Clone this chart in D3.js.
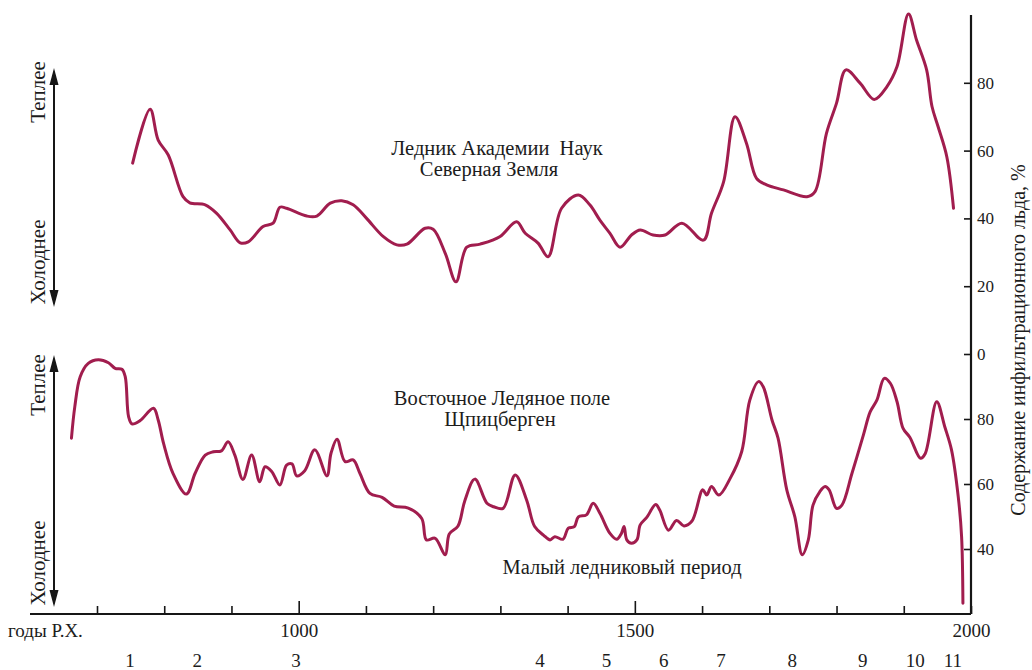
<!DOCTYPE html>
<html>
<head>
<meta charset="utf-8">
<script src="https://cdn.jsdelivr.net/npm/d3@7"></script>
<style>
  html, body { margin: 0; padding: 0; background: #ffffff; }
  svg { display: block; }
  text { font-family: "Liberation Serif", "Times New Roman", serif; fill: #1c1c1c; }
</style>
</head>
<body>
<svg id="chart" width="1032" height="670"></svg>
<script>
// Ледник Академии Наук (Северная Земля): year and infiltration-ice content, %
const topYears = [753, 779, 791, 806, 828, 838, 861, 878, 898, 913, 925, 947, 962, 972, 982,
  1012, 1027, 1047, 1064, 1081, 1101, 1126, 1146, 1161, 1188, 1200, 1218, 1234, 1250, 1270,
  1299, 1324, 1337, 1356, 1371, 1391, 1416, 1433, 1448, 1463, 1478, 1495, 1508, 1527, 1545,
  1570, 1602, 1614, 1632, 1649, 1666, 1681, 1696, 1721, 1756, 1768, 1785, 1800, 1814, 1835,
  1856, 1875, 1890, 1907, 1919, 1934, 1942, 1951, 1964, 1974];
const topValues = [56.3, 72.2, 63.1, 58.7, 46.4, 44.6, 44.0, 41.5, 36.6, 32.8, 33.1, 37.6, 38.6, 43.3, 43.0,
  40.7, 40.7, 44.5, 45.2, 44.0, 40.0, 34.6, 32.2, 32.4, 37.1, 36.8, 29.7, 21.3, 31.5, 32.4,
  34.6, 39.0, 35.6, 32.7, 28.7, 43.0, 46.9, 44.0, 39.5, 35.6, 31.5, 35.1, 36.6, 35.1, 35.1,
  38.6, 33.6, 41.5, 50.8, 70.0, 62.2, 51.8, 49.9, 48.4, 46.4, 47.9, 65.1, 74.0, 83.8, 79.9,
  75.1, 78.9, 84.8, 100.3, 92.6, 83.8, 73.0, 67.1, 58.2, 43.0];

// Восточное Ледяное поле (Шпицберген): year and infiltration-ice content, %
const bottomYears = [662, 667, 675, 687, 702, 717, 727, 737, 742, 747, 752, 764, 784, 791, 799,
  813, 833, 846, 861, 873, 885, 895, 905, 917, 930, 942, 950, 960, 972, 982,
  990, 997, 1009, 1024, 1042, 1048, 1057, 1069, 1081, 1091, 1106, 1124, 1142, 1163, 1183,
  1190, 1203, 1218, 1224, 1237, 1247, 1262, 1280, 1290, 1304, 1322, 1339, 1351, 1364, 1374,
  1381, 1393, 1401, 1410, 1416, 1428, 1438, 1448, 1463, 1473, 1480, 1484, 1488, 1495, 1503,
  1508, 1518, 1531, 1537, 1550, 1562, 1573, 1585, 1601, 1607, 1614, 1625, 1642, 1659, 1671,
  1684, 1691, 1704, 1713, 1726, 1738, 1749, 1758, 1765, 1775, 1783, 1789, 1800, 1808, 1823,
  1840, 1850, 1860, 1871, 1880, 1890, 1899, 1909, 1925, 1932, 1949, 1961, 1971, 1981, 1986, 1988];
const bottomValues = [74.1, 83.8, 93.0, 97.1, 98.2, 97.3, 95.6, 95.3, 93.0, 80.7, 78.5, 79.5, 83.3, 79.7, 72.5,
  63.3, 56.9, 63.3, 68.9, 69.9, 70.2, 73.0, 68.9, 61.4, 68.9, 60.7, 65.3, 63.8, 59.7, 65.8,
  66.2, 62.5, 64.1, 70.5, 62.5, 69.4, 73.8, 66.9, 67.4, 63.3, 57.1, 55.9, 53.2, 52.6, 49.4,
  42.8, 43.3, 38.2, 44.6, 47.1, 54.8, 61.5, 54.1, 53.0, 52.5, 62.8, 55.1, 46.9, 44.3, 42.8,
  43.8, 43.0, 46.4, 46.9, 49.9, 50.5, 54.1, 51.0, 44.8, 43.0, 44.8, 46.9, 42.8, 41.8, 42.8,
  47.4, 49.8, 53.7, 52.0, 45.8, 48.8, 47.1, 48.6, 58.2, 56.6, 59.2, 56.6, 61.8, 70.0, 85.8,
  91.5, 89.9, 79.7, 74.1, 58.2, 49.9, 38.2, 42.8, 53.5, 57.6, 59.2, 58.2, 52.5, 53.5, 63.3,
  75.1, 82.2, 85.8, 92.5, 91.0, 85.3, 77.1, 74.4, 67.9, 69.4, 85.3, 77.6, 70.5, 56.1, 43.8, 23.3];

// Axis ticks and labels
const yearTicks = [700, 800, 900, 1000, 1100, 1200, 1300, 1400, 1500, 1600, 1700, 1800, 1900, 2000];
const yearLabels = [1000, 1500, 2000];
const topTicks = [0, 20, 40, 60, 80];
const bottomTicks = [40, 60, 80];

// Numbered periods along the time axis
const periodYears = [749, 849, 996, 1359, 1458, 1543, 1628, 1734, 1839, 1917, 1973];
const periodLabels = ["1", "2", "3", "4", "5", "6", "7", "8", "9", "10", "11"];

const svg = d3.select("#chart");
const ink = "#161616";
const curveColor = "#a11d4e";
const serif = '"Liberation Serif", "Times New Roman", serif';

const x = d3.scaleLinear().domain([700, 2000]).range([97, 971]);
const yTop = d3.scaleLinear().domain([0, 100]).range([354, 15]);
const yBottom = d3.scaleLinear().domain([20, 100]).range([614, 354]);

// Curves
const lineTop = d3.line().x(d => x(d[0])).y(d => yTop(d[1])).curve(d3.curveCatmullRom.alpha(0.5));
const lineBottom = d3.line().x(d => x(d[0])).y(d => yBottom(d[1])).curve(d3.curveCatmullRom.alpha(0.5));

svg.append("path")
  .attr("d", lineTop(d3.zip(topYears, topValues)))
  .attr("fill", "none").attr("stroke", curveColor)
  .attr("stroke-width", 3).attr("stroke-linejoin", "round").attr("stroke-linecap", "round");

svg.append("path")
  .attr("d", lineBottom(d3.zip(bottomYears, bottomValues)))
  .attr("fill", "none").attr("stroke", curveColor)
  .attr("stroke-width", 3).attr("stroke-linejoin", "round").attr("stroke-linecap", "round");

// Time axis
svg.append("line")
  .attr("x1", 30).attr("x2", x(2000)).attr("y1", 614).attr("y2", 614)
  .attr("stroke", ink).attr("stroke-width", 2.2);

const xAxis = d3.axisBottom(x)
  .tickValues(yearTicks)
  .tickSizeInner(-8).tickSizeOuter(0).tickPadding(10)
  .tickFormat(d => yearLabels.includes(d) ? String(d) : "");

const gx = svg.append("g").attr("transform", "translate(0,614)").call(xAxis);
gx.select(".domain").remove();
gx.attr("font-family", serif).attr("font-size", 19);
gx.selectAll(".tick line").attr("stroke", ink).attr("stroke-width", 1.6)
  .filter(d => d === 1000 || d === 1500).attr("y2", -13);
gx.selectAll(".tick text").attr("fill", "#1c1c1c");

svg.append("text")
  .attr("x", 8).attr("y", 637)
  .attr("font-size", 19)
  .text("годы Р.Х.");

// Period numbers
svg.append("g").selectAll("text")
  .data(periodYears)
  .join("text")
  .attr("x", d => x(d)).attr("y", 667)
  .attr("text-anchor", "middle").attr("font-size", 19)
  .text((d, i) => periodLabels[i]);

// Right-hand value axis
svg.append("line")
  .attr("x1", 971).attr("x2", 971).attr("y1", yTop(100)).attr("y2", 614)
  .attr("stroke", ink).attr("stroke-width", 2.2);

function valueAxis(scale, ticks) {
  const g = svg.append("g").attr("transform", "translate(971,0)")
    .call(d3.axisRight(scale).tickValues(ticks).tickSizeInner(-7).tickSizeOuter(0).tickPadding(6));
  g.select(".domain").remove();
  g.attr("font-family", serif).attr("font-size", 17);
  g.selectAll(".tick line").attr("stroke", ink).attr("stroke-width", 1.6);
  g.selectAll(".tick text").attr("fill", "#3c3c3c");
}
valueAxis(yTop, topTicks);
valueAxis(yBottom, bottomTicks);

svg.append("text")
  .attr("transform", "translate(1018,340) rotate(-90)")
  .attr("text-anchor", "middle").attr("dominant-baseline", "central")
  .attr("font-size", 20)
  .text("Содержание инфильтрационного льда, %");

// Warmer / colder arrows on the left
const arrows = [
  { top: 68, bottom: 307, warm: 92, cold: 262 },
  { top: 355, bottom: 607, warm: 385, cold: 563 }
];
const arrowX = 54;
arrows.forEach(a => {
  svg.append("line")
    .attr("x1", arrowX).attr("x2", arrowX).attr("y1", a.top + 10).attr("y2", a.bottom - 10)
    .attr("stroke", ink).attr("stroke-width", 2);
  svg.append("path")
    .attr("d", `M${arrowX},${a.top} L${arrowX - 4.5},${a.top + 17} L${arrowX + 4.5},${a.top + 17} Z`)
    .attr("fill", ink);
  svg.append("path")
    .attr("d", `M${arrowX},${a.bottom} L${arrowX - 4.5},${a.bottom - 17} L${arrowX + 4.5},${a.bottom - 17} Z`)
    .attr("fill", ink);
  svg.append("text")
    .attr("transform", `translate(38,${a.warm}) rotate(-90)`)
    .attr("text-anchor", "middle").attr("dominant-baseline", "central")
    .attr("font-size", 21).text("Теплее");
  svg.append("text")
    .attr("transform", `translate(38,${a.cold}) rotate(-90)`)
    .attr("text-anchor", "middle").attr("dominant-baseline", "central")
    .attr("font-size", 21).text("Холоднее");
});

// Series captions
const captions = [
  { text: "Ледник Академии  Наук", x: 497, y: 155 },
  { text: "Северная Земля", x: 489, y: 176 },
  { text: "Восточное Ледяное поле", x: 502, y: 405 },
  { text: "Щпицберген", x: 500, y: 426 },
  { text: "Малый ледниковый период", x: 622, y: 574 }
];
svg.append("g").selectAll("text")
  .data(captions)
  .join("text")
  .attr("x", d => d.x).attr("y", d => d.y)
  .attr("text-anchor", "middle").attr("font-size", 20.5)
  .style("white-space", "pre")
  .text(d => d.text);
</script>
</body>
</html>
